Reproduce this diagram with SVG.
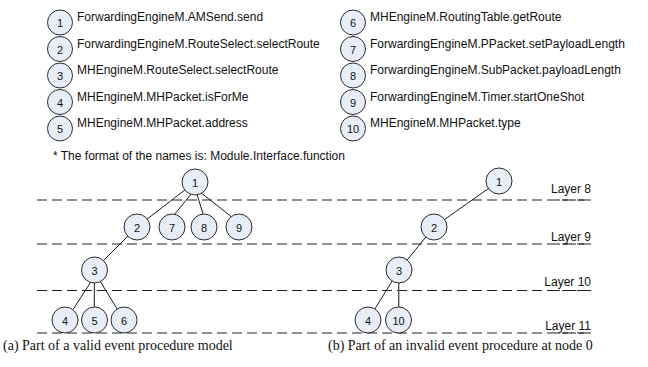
<svg xmlns="http://www.w3.org/2000/svg" width="648" height="367" viewBox="0 0 648 367">
<style>
.bg{fill:#ffffff}
.n{fill:#e8eef8;stroke:#2b2b2b;stroke-width:1}
.d{font-family:"Liberation Sans",Arial,sans-serif;font-size:11px;fill:#111;text-anchor:middle}
.t{font-family:"Liberation Sans",Arial,sans-serif;font-size:12px;fill:#111}
.l{font-family:"Liberation Sans",Arial,sans-serif;font-size:12px;fill:#111;text-anchor:end}
.c{font-family:"Liberation Serif","Times New Roman",serif;font-size:14px;fill:#111}
.e{stroke:#1a1a1a;stroke-width:1;fill:none}
.e2{stroke:#555;stroke-width:1.4;fill:none}
.dash{stroke:#222;stroke-width:1.2;stroke-dasharray:10 5;fill:none}
.dash2{stroke:#222;stroke-width:1.2;stroke-dasharray:5 3;fill:none}
</style>
<rect class="bg" x="0" y="0" width="648" height="367"/>

<g id="legend">
  <g id="leg1"><circle class="n" cx="60" cy="22.5" r="12.5"/><text class="d" x="60" y="27">1</text><text class="t" x="77" y="21">ForwardingEngineM.AMSend.send</text></g>
  <g id="leg2"><circle class="n" cx="60" cy="49" r="12.5"/><text class="d" x="60" y="53.5">2</text><text class="t" x="77" y="47.5">ForwardingEngineM.RouteSelect.selectRoute</text></g>
  <g id="leg3"><circle class="n" cx="60" cy="75.5" r="12.5"/><text class="d" x="60" y="80">3</text><text class="t" x="77" y="74">MHEngineM.RouteSelect.selectRoute</text></g>
  <g id="leg4"><circle class="n" cx="60" cy="102" r="12.5"/><text class="d" x="60" y="106.5">4</text><text class="t" x="77" y="100.5">MHEngineM.MHPacket.isForMe</text></g>
  <g id="leg5"><circle class="n" cx="60" cy="128.5" r="12.5"/><text class="d" x="60" y="133">5</text><text class="t" x="77" y="127">MHEngineM.MHPacket.address</text></g>
  <g id="leg6"><circle class="n" cx="353" cy="22.5" r="12.5"/><text class="d" x="353" y="27">6</text><text class="t" x="370" y="21">MHEngineM.RoutingTable.getRoute</text></g>
  <g id="leg7"><circle class="n" cx="353" cy="49" r="12.5"/><text class="d" x="353" y="53.5">7</text><text class="t" x="370" y="47.5">ForwardingEngineM.PPacket.setPayloadLength</text></g>
  <g id="leg8"><circle class="n" cx="353" cy="75.5" r="12.5"/><text class="d" x="353" y="80">8</text><text class="t" x="370" y="74">ForwardingEngineM.SubPacket.payloadLength</text></g>
  <g id="leg9"><circle class="n" cx="353" cy="102" r="12.5"/><text class="d" x="353" y="106.5">9</text><text class="t" x="370" y="100.5">ForwardingEngineM.Timer.startOneShot</text></g>
  <g id="leg10"><circle class="n" cx="353" cy="128.5" r="12.5"/><text class="d" x="353" y="133">10</text><text class="t" x="370" y="127">MHEngineM.MHPacket.type</text></g>
  <text class="t" x="53" y="160">* The format of the names is: Module.Interface.function</text>
</g>

<g id="layers">
  <line class="dash" x1="37" y1="200" x2="591" y2="200"/>
  <line class="dash" x1="37" y1="244" x2="591" y2="244"/>
  <line class="dash" x1="37" y1="290.5" x2="591" y2="290.5"/>
  <line class="dash" x1="37" y1="333" x2="591" y2="333"/>
  <line class="dash2" x1="557" y1="200" x2="591" y2="200" stroke-dashoffset="2"/>
  <line class="dash2" x1="557" y1="244" x2="591" y2="244" stroke-dashoffset="2"/>
  <line class="dash2" x1="557" y1="290.5" x2="591" y2="290.5" stroke-dashoffset="2"/>
  <line class="dash2" x1="557" y1="333" x2="591" y2="333" stroke-dashoffset="2"/>
  <text class="l" x="591" y="192.5">Layer 8</text>
  <text class="l" x="591" y="240.5">Layer 9</text>
  <text class="l" x="591" y="285.5">Layer 10</text>
  <text class="l" x="591" y="330">Layer 11</text>
</g>

<g id="connectors">
  <line class="e" x1="195" y1="182" x2="137" y2="227"/>
  <line class="e" x1="192" y1="193" x2="174" y2="215"/>
  <line class="e" x1="197" y1="194" x2="203" y2="214"/>
  <line class="e" x1="200" y1="192" x2="233" y2="218"/>
  <line class="e" x1="137" y1="227" x2="94" y2="270"/>
  <line class="e" x1="91.5" y1="281" x2="73" y2="309.5"/>
  <line class="e" x1="94.3" y1="283" x2="94.3" y2="307.5"/>
  <line class="e" x1="100" y1="281" x2="117.5" y2="309.5"/>
  <line class="e" x1="499" y1="181" x2="434" y2="227"/>
  <line class="e" x1="434" y1="227" x2="399" y2="270"/>
  <line class="e" x1="399" y1="270" x2="368" y2="320"/>
  <line class="e2" x1="398.7" y1="283" x2="398.7" y2="307.5"/>
</g>

<g id="treeA">
  <g id="a1"><circle class="n" cx="195" cy="182" r="13"/><text class="d" x="195" y="186.5">1</text></g>
  <g id="a2"><circle class="n" cx="137" cy="227" r="13"/><text class="d" x="137" y="231.5">2</text></g>
  <g id="a7"><circle class="n" cx="172" cy="227" r="13"/><text class="d" x="172" y="231.5">7</text></g>
  <g id="a8"><circle class="n" cx="204" cy="227" r="13"/><text class="d" x="204" y="231.5">8</text></g>
  <g id="a9"><circle class="n" cx="239" cy="227" r="13"/><text class="d" x="239" y="231.5">9</text></g>
  <g id="a3"><circle class="n" cx="94.5" cy="270" r="13"/><text class="d" x="94.5" y="274.5">3</text></g>
  <g id="a4"><circle class="n" cx="65" cy="320" r="13"/><text class="d" x="65" y="324.5">4</text></g>
  <g id="a5"><circle class="n" cx="94.5" cy="320" r="13"/><text class="d" x="94.5" y="324.5">5</text></g>
  <g id="a6"><circle class="n" cx="124" cy="320" r="13"/><text class="d" x="124" y="324.5">6</text></g>
</g>

<g id="treeB">
  <g id="b1"><circle class="n" cx="499" cy="181" r="13"/><text class="d" x="499" y="185.5">1</text></g>
  <g id="b2"><circle class="n" cx="434" cy="227" r="13"/><text class="d" x="434" y="231.5">2</text></g>
  <g id="b3"><circle class="n" cx="399" cy="270" r="13"/><text class="d" x="399" y="274.5">3</text></g>
  <g id="b4"><circle class="n" cx="368" cy="320" r="13"/><text class="d" x="368" y="324.5">4</text></g>
  <g id="b10"><circle class="n" cx="398.5" cy="320" r="13"/><text class="d" x="398.5" y="324.5">10</text></g>
</g>

<text class="c" x="3" y="350">(a) Part of a valid event procedure model</text>
<text class="c" x="328" y="350">(b) Part of an invalid event procedure at node 0</text>
</svg>
